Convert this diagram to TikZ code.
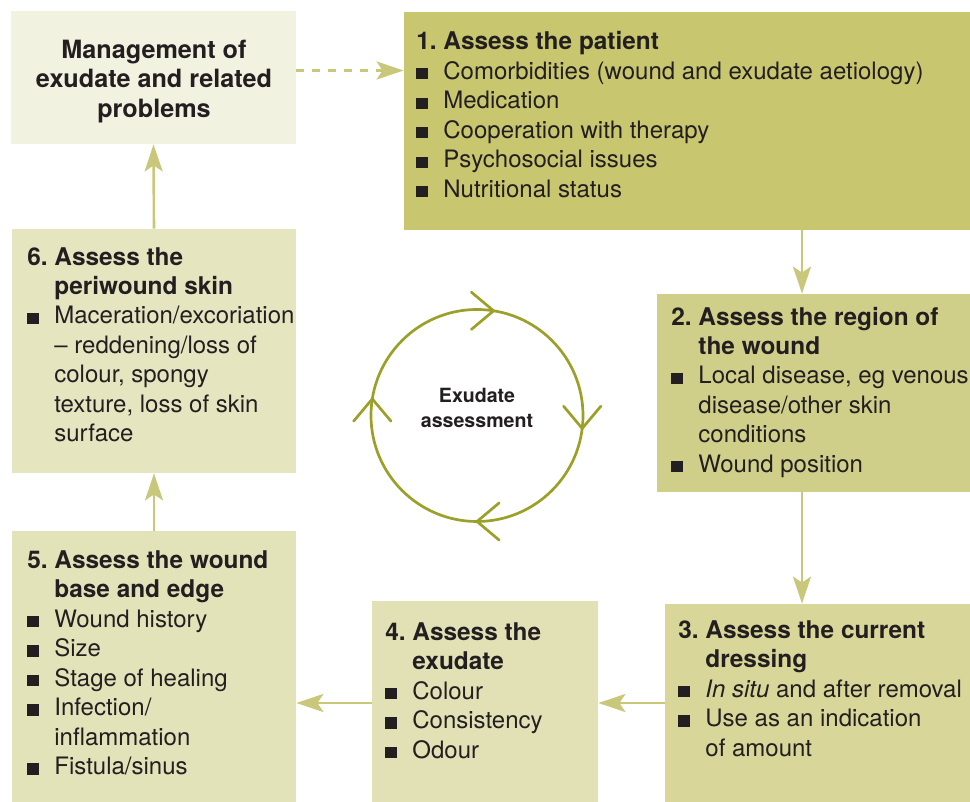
\documentclass[tikz,border=0pt]{standalone}
\usepackage{fontspec}
\setmainfont{TeX Gyre Heros}
\usetikzlibrary{arrows.meta,calc}

\definecolor{txtc}{HTML}{231F20}
\definecolor{mgmtc}{HTML}{F2F2E1}
\definecolor{onec}{HTML}{C8C66F}
\definecolor{twoc}{HTML}{D0CF89}
\definecolor{threec}{HTML}{D8D799}
\definecolor{fourc}{HTML}{E2E1B6}
\definecolor{fivec}{HTML}{E3E3BA}
\definecolor{sixc}{HTML}{E5E5C0}
\definecolor{arrowc}{HTML}{C8C77A}
\definecolor{ringc}{HTML}{9BA028}

\newcommand{\hd}[1]{\makebox[13.5pt][l]{\bfseries\fontsize{12.2}{14.75}\selectfont #1}}
\newcommand{\bul}{\makebox[13.5pt][l]{\rule{5.6pt}{5.6pt}}}
\newcommand{\ind}{\hspace*{13.5pt}}
\newcommand{\hdt}[1]{{\bfseries\fontsize{12.2}{14.75}\selectfont #1}}

\tikzset{
  box/.style={fill=#1, inner sep=0pt},
  % placed at the baseline of the last line
  lbl/.style={anchor=base west, align=left, inner sep=0pt, text=txtc,
    font=\fontsize{12}{14.75}\selectfont},
  flow/.style={draw=arrowc, line width=1.3pt,
    -{Stealth[length=13.5pt,width=9pt,inset=3pt]}},
  cyc/.style={draw=ringc, line width=1.35pt, line cap=round, line join=miter},
}

\begin{document}
\begin{tikzpicture}[x=0.5pt,y=-0.5pt]
  \useasboundingbox (0,0) rectangle (970,802);

  % boxes
  \node[box=mgmtc, minimum width=142.5pt, minimum height=66.5pt] (mgmt) at (153.5,77.5) {};
  \node[box=onec, minimum width=283pt, minimum height=109pt] (b1) at (687,121) {};
  \node[box=twoc, minimum width=156.5pt, minimum height=99pt] (b2) at (813.5,393) {};
  \node[box=threec, minimum width=152.5pt, minimum height=99pt] (b3) at (817.5,703) {};
  \node[box=fourc, minimum width=113pt, minimum height=100.5pt] (b4) at (485,701.5) {};
  \node[box=fivec, minimum width=142pt, minimum height=135.5pt] (b5) at (154,666.5) {};
  \node[box=sixc, minimum width=142pt, minimum height=122pt] (b6) at (154,351) {};

  % texts
  \node[align=center, inner sep=0pt, text=txtc, font=\bfseries\fontsize{12.6}{14.75}\selectfont]
    (mgmtt) at (154,81.5) {Management of\\exudate and related\\problems};
  \node[lbl] (b1t) at (416,197.5) {\hd{1.}\hdt{Assess the patient}\\
    \bul Comorbidities (wound and exudate aetiology)\\
    \bul Medication\\
    \bul Cooperation with therapy\\
    \bul Psychosocial issues\\
    \bul Nutritional status};
  \node[lbl] (b2t) at (671,472.5) {\hd{2.}\hdt{Assess the region of}\\
    \ind\hdt{the wound}\\
    \bul Local disease, eg venous\\
    \ind disease/other skin\\
    \ind conditions\\
    \bul Wound position};
  \node[lbl] (b3t) at (678,756) {\hd{3.}\hdt{Assess the current}\\
    \ind\hdt{dressing}\\
    \bul \textit{In situ} and after removal\\
    \bul Use as an indication\\
    \ind of amount};
  \node[lbl] (b4t) at (385,758) {\hd{4.}\hdt{Assess the}\\
    \ind\hdt{exudate}\\
    \bul Colour\\
    \bul Consistency\\
    \bul Odour};
  \node[lbl] (b5t) at (27,774.5) {\hd{5.}\hdt{Assess the wound}\\
    \ind\hdt{base and edge}\\
    \bul Wound history\\
    \bul Size\\
    \bul Stage of healing\\
    \bul Infection/\\
    \ind inflammation\\
    \bul Fistula/sinus};
  \node[lbl] (b6t) at (27,442) {\hd{6.}\hdt{Assess the}\\
    \ind\hdt{periwound skin}\\
    \bul Maceration/excoriation\\
    \ind -- reddening/loss of\\
    \ind colour, spongy\\
    \ind texture, loss of skin\\
    \ind surface};

  % connectors
  \coordinate (ax) at (802,0);
  \coordinate (ay) at (0,703);
  \coordinate (ad) at (0,70.5);
  \draw[flow, dash pattern=on 4pt off 4pt] (mgmt.east |- ad) -- (b1.west |- ad);
  \draw[flow] (b1.south -| ax) -- (b2.north -| ax);
  \draw[flow] (b2.south -| ax) -- (b3.north -| ax);
  \draw[flow] (b3.west |- ay) -- (b4.east |- ay);
  \draw[flow] (b4.west |- ay) -- (b5.east |- ay);
  \draw[flow] (b5.north) -- (b6.south);
  \draw[flow] (b6.north) -- (mgmt.south);

  % cycle
  \coordinate (c) at (477,415.5);
  \draw[cyc] (c) circle (106);
  \foreach \a/\d in {-81/0, 7/90, 90/180, 189/270}
    \draw[cyc] ($(c)+(\a:106)$) ++(\d+140:29) -- ($(c)+(\a:106)$) -- ++(\d+220:29);
  \node[align=center, inner sep=0pt, text=txtc, font=\bfseries\fontsize{9.8}{12.5}\selectfont]
    (cyct) at (477,408) {Exudate\\assessment};
\end{tikzpicture}
\end{document}
